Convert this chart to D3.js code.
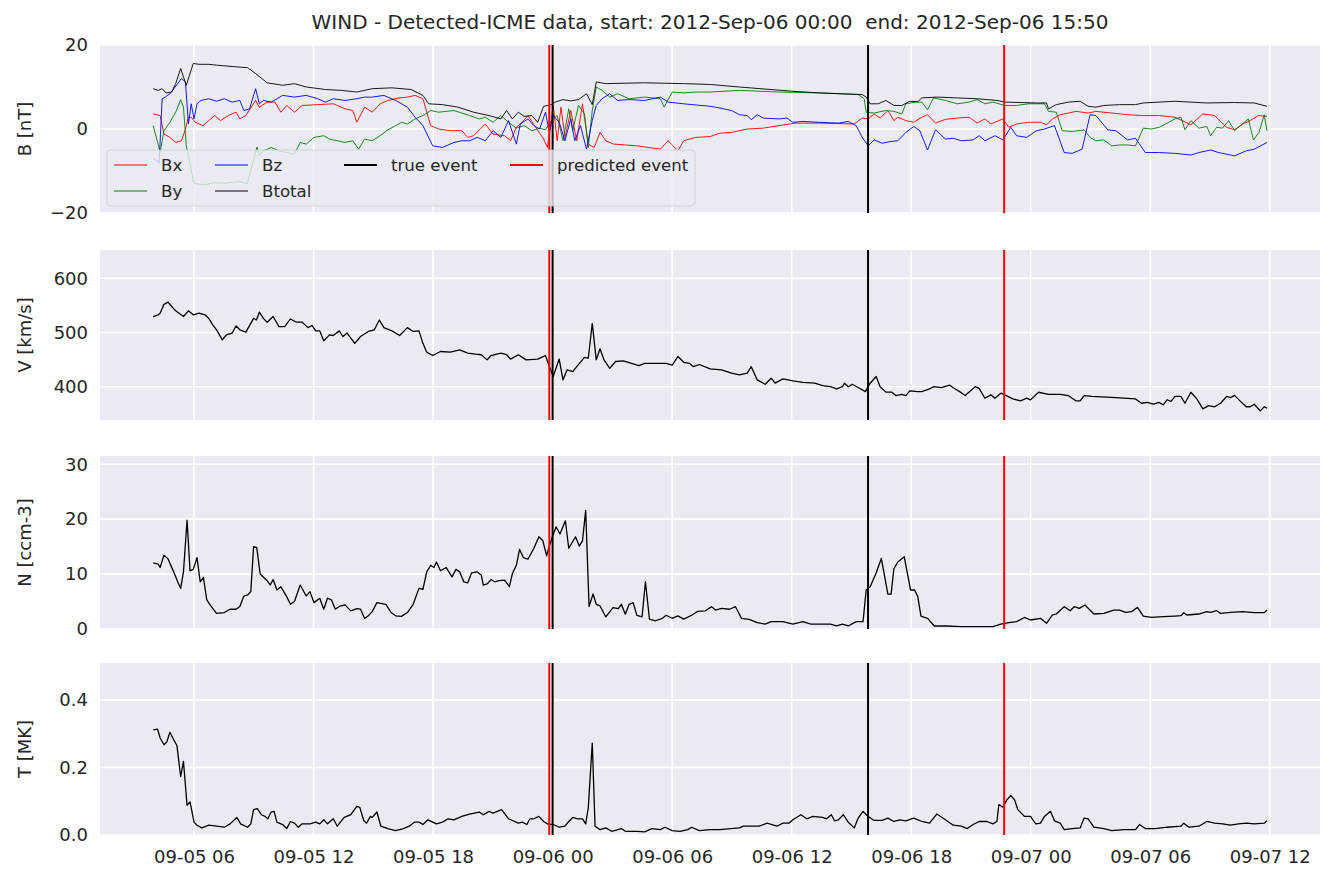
<!DOCTYPE html>
<html>
<head>
<meta charset="utf-8">
<script src="https://cdn.jsdelivr.net/npm/d3@7"></script>
<style>
  html, body { margin: 0; padding: 0; background: #ffffff; }
  svg { display: block; font-family: "DejaVu Sans", sans-serif; }
</style>
</head>
<body>
<svg id="chart" width="1336" height="886"></svg>
<script>
// ---- Data (time in hours since 2012-09-05 00:00 UTC) ----
const titleText = "WIND - Detected-ICME data, start: 2012-Sep-06 00:00  end: 2012-Sep-06 15:50";
const tickHours = [6, 12, 18, 24, 30, 36, 42, 48, 54, 60];
const trueEvents = [24.0, 39.833];
const predictedEvents = [23.833, 46.667];

const bTotal = [[3.95,9.6],[4.20,9.2],[4.40,9.6],[4.59,8.6],[4.88,8.8],[5.08,10.8],[5.33,14.4],[5.61,10.4],[5.96,15.6],[6.25,15.4],[6.74,15.4],[7.13,15.2],[8.11,14.8],[8.69,14.6],[9.09,13.2],[9.67,11.0],[10.45,10.4],[11.04,10.8],[11.63,10.0],[12.60,9.4],[13.39,9.2],[14.17,8.8],[14.95,9.6],[15.93,9.8],[16.90,9.4],[17.49,8.0],[17.78,6.0],[18.47,5.8],[19.25,5.2],[20.03,4.0],[20.81,3.2],[21.40,2.4],[21.69,4.4],[21.98,2.4],[22.28,4.0],[22.57,3.0],[22.96,3.2],[23.25,1.6],[23.55,5.4],[23.74,5.6],[23.94,5.8],[24.13,6.4],[24.52,7.0],[24.91,6.7],[25.30,7.0],[25.70,8.4],[25.99,5.8],[26.19,11.2],[26.67,10.8],[28.62,11.0],[30.58,10.8],[31.91,10.6],[33.38,10.0],[36.00,9.0],[37.35,8.6],[39.54,8.2],[39.74,7.6],[39.94,6.0],[40.34,6.0],[40.73,6.8],[41.13,5.6],[41.53,5.6],[41.93,6.6],[42.33,6.5],[42.53,7.4],[43.32,7.6],[44.31,7.4],[45.31,7.2],[46.30,6.8],[46.70,6.4],[48.29,6.2],[48.79,6.2],[48.89,4.8],[49.28,5.8],[49.88,6.4],[50.48,6.6],[50.88,5.4],[51.27,5.2],[51.67,5.6],[52.46,5.8],[53.26,5.8],[53.65,6.2],[55.24,6.6],[56.84,6.2],[58.23,6.3],[59.22,6.2],[59.86,5.4]];

const bX = [[3.95,3.6],[4.30,3.2],[4.49,-1.2],[4.79,-2.0],[5.08,-3.2],[5.37,-2.8],[5.57,0],[5.72,2.8],[5.86,2.8],[6.06,1.6],[6.45,0.8],[6.74,2.0],[7.03,3.2],[7.33,2.0],[7.72,3.2],[8.11,4.0],[8.30,2.4],[8.60,3.2],[9.09,6.8],[9.28,5.2],[9.67,6.4],[10.06,6.4],[10.36,4.0],[10.65,5.6],[11.04,4.0],[11.43,5.6],[12.21,5.8],[12.99,6.0],[13.58,4.8],[13.97,4.4],[14.17,1.6],[14.56,5.2],[14.95,4.0],[15.34,6.0],[15.73,6.8],[16.32,7.4],[16.71,7.6],[17.10,8.0],[17.49,7.2],[17.88,0.8],[18.27,0],[18.86,-0.4],[19.44,-0.4],[19.74,-2.0],[20.03,-1.6],[20.62,1.2],[21.01,-1.2],[21.59,-1.6],[21.89,-2.8],[22.18,0.4],[22.47,1.6],[22.76,3.2],[23.15,0.4],[23.55,-2.4],[23.74,-4.4],[24.03,5.6],[24.23,-2.8],[24.42,5.2],[24.62,-2.0],[24.91,4.4],[25.21,-2.8],[25.50,6.0],[25.79,-3.6],[26.09,-4.4],[26.38,-0.8],[26.67,-2.8],[27.06,-3.6],[28.23,-4.0],[29.41,-4.8],[29.80,-2.8],[30.29,-5.2],[30.58,-2.8],[31.17,-2.0],[31.91,-1.8],[32.38,-1.0],[32.98,-0.8],[33.77,0],[34.57,0.2],[35.36,0.8],[36.16,1.4],[37.35,1.4],[39.14,1.2],[39.54,2.6],[39.84,2.4],[40.14,3.6],[40.44,2.6],[40.83,4.4],[41.13,2.0],[41.33,2.8],[41.73,2.0],[42.13,1.6],[42.53,2.8],[42.82,3.4],[43.22,1.4],[43.72,2.3],[44.31,2.6],[44.91,2.8],[45.31,1.4],[45.70,2.4],[46.00,1.2],[46.60,2.4],[46.90,0.4],[47.29,1.2],[47.89,1.6],[48.49,1.6],[48.79,1.0],[49.09,2.4],[49.48,3.4],[50.28,4.2],[50.88,3.8],[51.27,4.2],[52.07,3.8],[52.86,3.4],[53.65,3.2],[54.45,3.2],[55.24,2.8],[56.04,1.0],[56.64,3.6],[57.23,3.2],[57.83,0.4],[58.23,-0.2],[58.63,1.2],[59.02,2.0],[59.42,3.2],[59.86,3.0]];

const bY = [[3.95,0.8],[4.30,-5.5],[4.49,-0.4],[4.79,1.6],[5.08,4.0],[5.33,7.0],[5.47,5.2],[5.61,-4.0],[5.99,-12.9],[6.47,-13.3],[7.04,-12.8],[7.62,-12.9],[8.20,-12.5],[8.67,-13.0],[9.16,-4.3],[9.28,-6.4],[9.48,-5.2],[9.87,-4.4],[10.26,-5.2],[10.65,-5.6],[11.04,-6.0],[11.33,-3.2],[11.63,-3.6],[12.02,-2.0],[12.51,-1.6],[12.80,-2.4],[13.19,-2.8],[13.58,-3.2],[13.97,-2.8],[14.26,-4.8],[14.56,-2.4],[14.95,-2.8],[15.34,-1.6],[15.73,-0.2],[16.12,0.8],[16.41,1.6],[16.71,1.2],[17.10,2.4],[17.49,3.2],[17.88,4.4],[18.27,4.0],[18.66,4.2],[19.05,4.4],[19.44,3.8],[19.83,3.2],[20.32,2.4],[20.62,2.8],[21.01,1.6],[21.40,3.2],[21.79,1.6],[22.18,0.2],[22.57,0.8],[22.96,-0.4],[23.35,0.2],[23.64,-0.2],[23.94,2.0],[24.23,3.2],[24.52,-2.8],[24.81,4.8],[25.01,-0.4],[25.30,5.6],[25.60,3.6],[25.79,-4.4],[25.99,4.4],[26.19,10.0],[26.48,9.2],[26.87,7.6],[27.26,8.4],[27.84,7.2],[28.62,7.6],[29.41,7.2],[29.60,5.2],[30.00,8.8],[30.58,8.6],[31.17,8.8],[31.91,8.8],[33.38,9.2],[35.36,8.8],[37.35,8.6],[39.34,8.2],[39.64,7.2],[39.74,4.0],[40.14,3.8],[40.73,4.4],[41.13,4.2],[41.53,3.6],[41.73,6.0],[42.23,6.4],[42.53,6.4],[42.82,4.6],[43.12,7.4],[43.72,6.8],[44.31,6.0],[44.91,6.4],[45.31,7.0],[45.70,6.0],[46.10,6.4],[46.70,5.6],[47.29,5.6],[47.89,6.0],[48.69,6.0],[48.89,4.2],[49.28,4.0],[49.58,-0.4],[50.08,-0.6],[50.68,-0.2],[50.98,-2.0],[51.27,-2.8],[51.67,-2.6],[52.07,-4.0],[52.46,-3.8],[52.86,-3.8],[53.26,-4.0],[53.65,0.2],[54.05,0],[54.45,0.4],[54.85,1.4],[55.24,2.4],[55.54,2.8],[55.74,-0.2],[56.04,2.0],[56.44,0.2],[56.84,0.6],[57.03,-1.6],[57.33,0.4],[57.63,0.2],[57.93,2.0],[58.23,-0.4],[58.63,1.2],[58.92,2.4],[59.18,-2.6],[59.46,-0.8],[59.72,3.4],[59.86,-0.4]];

const bZ = [[3.95,-7.0],[4.25,-8.0],[4.40,7.2],[4.55,7.6],[4.79,8.4],[5.18,10.8],[5.37,12.0],[5.57,11.2],[5.72,1.2],[5.86,6.0],[6.00,2.4],[6.15,6.0],[6.35,6.8],[6.74,7.2],[7.13,6.6],[7.52,7.2],[7.91,6.4],[8.30,6.8],[8.50,4.4],[8.79,4.8],[9.09,9.6],[9.28,6.0],[9.48,6.8],[9.87,6.4],[10.45,8.0],[11.04,7.6],[11.63,8.0],[12.21,7.2],[12.60,6.4],[12.99,7.2],[13.58,6.8],[14.17,7.2],[14.56,7.6],[14.95,7.6],[15.53,8.0],[16.12,6.8],[16.71,5.2],[17.10,2.8],[17.49,0.8],[17.98,-4.0],[18.47,-4.4],[19.05,-3.2],[19.44,-2.8],[19.83,-2.8],[20.22,-2.0],[20.62,-2.8],[21.01,-0.4],[21.40,-2.0],[21.79,2.0],[21.98,-0.8],[22.18,-3.6],[22.38,1.2],[22.76,2.4],[23.06,0.8],[23.35,0],[23.64,4.0],[23.84,-0.8],[24.03,3.2],[24.33,1.6],[24.62,-2.8],[24.91,2.4],[25.11,-2.8],[25.40,0.8],[25.70,-4.8],[25.99,2.0],[26.19,5.6],[26.48,7.2],[26.87,8.4],[27.26,6.8],[27.84,7.0],[28.62,6.8],[29.41,7.6],[29.80,6.4],[30.19,6.2],[30.58,6.0],[31.91,5.4],[32.18,5.2],[32.98,4.4],[33.38,3.4],[33.77,3.2],[33.97,2.2],[34.27,3.4],[34.57,2.6],[35.36,2.4],[35.76,2.6],[36.06,1.6],[36.56,1.8],[37.35,1.6],[38.35,1.4],[38.84,1.8],[39.24,0.8],[39.54,-2.0],[39.84,-4.0],[40.14,-2.6],[40.54,-3.4],[40.93,-3.0],[41.33,-2.8],[41.73,-0.8],[42.13,0.6],[42.43,-0.4],[42.82,-5.0],[43.22,-0.2],[43.72,-2.4],[44.11,-2.2],[44.51,-2.8],[45.11,-2.6],[45.41,-1.6],[45.70,-2.8],[46.20,-1.6],[46.60,-2.6],[47.00,0.4],[47.29,-1.6],[47.79,-2.0],[48.29,-0.4],[48.69,0],[49.19,0.8],[49.68,-5.6],[50.08,-5.8],[50.58,-4.8],[50.98,3.4],[51.27,3.2],[51.87,-0.2],[52.27,-0.4],[52.86,-2.6],[53.26,-2.2],[53.75,-5.6],[54.45,-5.6],[55.24,-5.8],[56.04,-6.2],[56.44,-5.6],[57.03,-5.0],[57.43,-5.6],[58.23,-6.4],[58.82,-5.2],[59.22,-4.8],[59.86,-3.2]];

const speed = [[3.95,529.5],[4.20,532.6],[4.30,535.7],[4.49,552],[4.69,556],[4.88,548],[5.08,540],[5.47,529.5],[5.72,540],[5.96,532.6],[6.25,535.7],[6.55,532.6],[6.74,526],[6.94,514],[7.13,505],[7.42,486.5],[7.62,495.7],[7.91,499],[8.11,512],[8.30,505],[8.60,500.6],[8.99,526],[9.13,523],[9.28,537.5],[9.48,526],[9.67,519],[9.97,529.5],[10.26,511],[10.55,511],[10.84,525],[11.14,519],[11.43,519],[11.72,509],[11.92,513],[12.11,503],[12.31,503],[12.51,484.6],[12.80,495.7],[12.99,494.5],[13.29,503],[13.48,492.6],[13.68,499],[14.07,480],[14.36,492.6],[14.75,502],[15.05,505],[15.30,523],[15.53,509],[15.93,503],[16.32,494.5],[16.71,509],[17.00,502],[17.29,503],[17.49,480],[17.68,463.7],[17.98,457.5],[18.37,465],[18.86,463.7],[19.34,468],[19.74,462],[20.13,460],[20.42,459],[20.71,449.5],[20.91,457.5],[21.40,462],[21.69,459],[21.89,451],[22.28,459],[22.67,449.5],[23.25,451],[23.64,457.5],[23.84,437],[24.03,418.8],[24.33,451],[24.52,412.6],[24.72,431],[25.01,428],[25.21,437],[25.60,454],[25.79,452.6],[25.99,517],[26.19,449.5],[26.38,470],[26.58,449.5],[26.87,434],[27.16,446.5],[27.55,447.7],[28.33,439],[28.62,443],[29.70,443],[30.00,440],[30.29,455.7],[30.58,445],[30.88,443],[31.07,437],[31.36,441],[31.91,433],[32.48,431],[32.98,425],[33.38,422],[33.77,425],[33.97,437],[34.27,412.6],[34.67,404.6],[34.97,415.7],[35.17,406.5],[35.56,414.5],[36.06,410.8],[36.56,408],[37.16,406.5],[37.55,402],[37.95,400],[38.25,396],[38.55,400],[38.65,406.5],[38.84,400],[39.04,404.6],[39.34,398.5],[39.70,391],[39.94,406.5],[40.24,418.8],[40.44,400],[40.73,390],[41.03,390],[41.23,383.7],[41.53,386],[41.73,383.7],[41.93,392.3],[42.33,391],[42.53,391],[42.92,396],[43.12,400],[43.52,398.5],[43.92,403],[44.11,398],[44.51,389],[44.71,383.7],[45.21,400],[45.41,397],[45.70,378.8],[46.00,385],[46.20,378.8],[46.50,388],[46.70,385],[47.10,377.5],[47.49,373.8],[47.79,378.8],[47.99,375.7],[48.39,389.8],[48.89,386],[49.48,386],[49.88,383.7],[50.28,373.8],[50.48,373.8],[50.68,383.7],[51.07,382],[52.27,380],[53.26,377.5],[53.56,369.5],[53.85,371],[54.15,367.7],[54.45,371],[54.65,366.5],[54.85,376],[55.04,373],[55.24,382],[55.54,382],[55.74,369.5],[56.04,389.8],[56.34,377.5],[56.64,359],[56.93,365],[57.23,363],[57.53,369.5],[57.83,382],[58.03,380],[58.23,384],[58.53,373],[58.82,363],[59.02,363],[59.22,367.7],[59.52,355.4],[59.72,363],[59.86,360.3]];

const density = [[3.95,12.06],[4.20,11.8],[4.30,11.2],[4.49,13.45],[4.69,12.8],[4.98,10.4],[5.18,8.6],[5.33,7.4],[5.47,10.4],[5.65,19.8],[5.80,10.6],[5.96,10.85],[6.15,13.0],[6.31,8.6],[6.47,9.4],[6.64,5.3],[6.84,4.2],[7.13,2.85],[7.52,3.0],[7.81,3.6],[8.11,3.6],[8.30,4.1],[8.50,6.0],[8.69,6.2],[8.85,6.8],[8.99,15.0],[9.15,14.8],[9.32,10.0],[9.67,8.8],[9.83,8.0],[9.97,9.0],[10.16,7.1],[10.36,7.7],[10.65,5.9],[10.84,4.5],[11.04,5.0],[11.33,8.0],[11.63,6.0],[11.82,6.8],[12.02,4.8],[12.31,5.6],[12.51,3.6],[12.70,5.6],[12.90,5.3],[13.09,3.6],[13.29,4.1],[13.58,4.4],[13.87,3.3],[14.17,3.7],[14.36,3.6],[14.56,1.9],[14.75,2.4],[14.95,3.2],[15.18,4.8],[15.63,4.5],[15.89,3.0],[16.12,2.4],[16.41,2.3],[16.71,3.0],[17.00,4.5],[17.29,7.4],[17.49,7.2],[17.68,10.4],[17.88,11.6],[18.04,11.2],[18.17,12.2],[18.37,10.6],[18.66,11.2],[18.95,9.5],[19.15,10.85],[19.34,10.4],[19.54,8.6],[19.74,8.4],[19.93,10.2],[20.22,10.4],[20.42,9.8],[20.52,8.0],[20.71,8.2],[20.91,9.0],[21.10,8.6],[21.30,8.8],[21.59,8.9],[21.83,7.7],[21.98,10.1],[22.18,11.6],[22.34,14.5],[22.53,13.0],[22.76,12.7],[23.06,14.7],[23.31,16.8],[23.51,16.06],[23.70,13.3],[23.80,14.7],[23.98,16.7],[24.17,18.6],[24.37,17.3],[24.64,19.7],[24.81,14.7],[25.15,16.8],[25.34,15.1],[25.50,16.06],[25.66,21.6],[25.83,4.1],[26.03,6.4],[26.19,4.5],[26.38,4.2],[26.67,2.2],[27.03,3.9],[27.30,3.7],[27.45,4.5],[27.65,2.7],[27.84,4.5],[28.04,4.8],[28.23,2.5],[28.49,2.2],[28.66,8.6],[28.86,1.8],[29.17,1.5],[29.51,1.95],[29.70,2.5],[30.00,1.95],[30.29,2.4],[30.58,1.8],[30.98,2.5],[31.27,3.2],[31.66,3.3],[31.98,4.06],[32.18,3.45],[32.48,3.76],[32.88,3.6],[33.18,4.06],[33.48,1.94],[33.87,1.76],[34.27,1.15],[34.67,0.9],[34.97,1.33],[35.56,1.33],[36.06,0.9],[36.56,1.33],[36.96,0.9],[37.95,0.9],[38.25,0.55],[38.55,0.9],[38.84,0.55],[39.24,1.33],[39.58,1.33],[39.74,7.1],[39.94,7.7],[40.24,10.2],[40.50,12.85],[40.83,6.36],[40.99,6.36],[41.13,11.0],[41.33,12.2],[41.65,13.15],[41.97,7.1],[42.17,7.1],[42.33,5.9],[42.49,2.36],[42.82,1.94],[43.16,0.55],[43.72,0.55],[44.51,0.42],[45.31,0.42],[46.10,0.42],[46.50,0.9],[46.90,1.15],[47.29,1.33],[47.69,2.1],[47.99,1.64],[48.49,1.94],[48.79,1.03],[49.09,2.55],[49.28,2.73],[49.68,4.06],[49.98,3.33],[50.18,4.06],[50.44,3.76],[50.72,4.36],[51.17,2.73],[51.67,2.85],[52.17,3.45],[52.46,3.45],[52.76,3.03],[53.06,3.15],[53.36,3.94],[53.65,2.36],[54.05,2.12],[54.65,2.24],[55.24,2.36],[55.54,2.42],[55.68,2.97],[55.84,2.55],[56.44,2.73],[56.84,3.15],[57.03,3.03],[57.33,3.33],[57.53,2.85],[58.03,3.03],[58.63,3.15],[59.22,2.97],[59.72,2.97],[59.86,3.45]];

const temperature = [[3.95,0.311],[4.17,0.313],[4.30,0.287],[4.49,0.267],[4.63,0.275],[4.79,0.304],[4.98,0.282],[5.14,0.265],[5.33,0.173],[5.47,0.218],[5.65,0.088],[5.80,0.098],[6.00,0.038],[6.15,0.029],[6.39,0.021],[6.74,0.029],[7.13,0.026],[7.52,0.023],[7.81,0.033],[8.15,0.052],[8.34,0.033],[8.69,0.023],[8.85,0.033],[8.99,0.075],[9.18,0.078],[9.38,0.060],[9.57,0.055],[9.71,0.048],[9.87,0.068],[10.02,0.070],[10.16,0.038],[10.45,0.031],[10.65,0.019],[10.84,0.040],[11.04,0.035],[11.23,0.023],[11.43,0.033],[11.82,0.033],[12.11,0.038],[12.31,0.033],[12.51,0.045],[12.70,0.033],[12.99,0.048],[13.19,0.026],[13.54,0.052],[13.87,0.060],[14.17,0.085],[14.32,0.082],[14.52,0.042],[14.66,0.035],[14.85,0.055],[14.95,0.052],[15.18,0.068],[15.38,0.026],[15.73,0.019],[16.12,0.013],[16.51,0.019],[16.80,0.026],[17.06,0.038],[17.29,0.038],[17.49,0.031],[17.74,0.045],[18.17,0.033],[18.47,0.038],[18.76,0.048],[19.05,0.045],[19.44,0.055],[19.83,0.062],[20.32,0.068],[20.52,0.060],[20.81,0.070],[21.01,0.065],[21.44,0.075],[21.79,0.048],[22.28,0.035],[22.47,0.038],[22.71,0.031],[22.86,0.048],[23.06,0.048],[23.31,0.055],[23.55,0.040],[23.74,0.033],[24.03,0.031],[24.33,0.023],[24.62,0.026],[24.81,0.040],[25.01,0.052],[25.26,0.048],[25.50,0.048],[25.66,0.033],[25.79,0.080],[25.99,0.272],[26.13,0.026],[26.38,0.016],[26.67,0.021],[26.97,0.011],[27.45,0.019],[27.65,0.011],[28.23,0.011],[28.62,0.009],[28.98,0.019],[29.41,0.016],[29.64,0.023],[30.00,0.013],[30.39,0.011],[30.78,0.016],[30.98,0.023],[31.36,0.013],[31.91,0.016],[32.38,0.016],[33.38,0.021],[33.58,0.026],[34.37,0.026],[34.77,0.035],[35.26,0.026],[35.56,0.035],[35.86,0.035],[36.06,0.045],[36.46,0.060],[36.76,0.048],[37.06,0.055],[37.55,0.052],[37.75,0.048],[37.99,0.060],[38.15,0.042],[38.35,0.045],[38.59,0.060],[38.84,0.038],[39.14,0.021],[39.34,0.050],[39.58,0.070],[39.84,0.055],[40.14,0.043],[40.54,0.043],[40.83,0.050],[41.13,0.040],[41.43,0.045],[41.73,0.042],[42.13,0.050],[42.53,0.040],[42.92,0.035],[43.28,0.062],[43.72,0.045],[44.11,0.029],[44.51,0.026],[44.81,0.019],[45.11,0.031],[45.41,0.040],[45.80,0.040],[46.10,0.033],[46.30,0.040],[46.40,0.090],[46.60,0.082],[46.80,0.104],[47.00,0.117],[47.19,0.104],[47.35,0.075],[47.69,0.055],[47.99,0.055],[48.25,0.033],[48.49,0.035],[48.69,0.055],[48.99,0.070],[49.19,0.042],[49.48,0.035],[49.68,0.016],[50.08,0.019],[50.48,0.021],[50.68,0.050],[50.88,0.048],[51.17,0.023],[51.67,0.019],[52.07,0.013],[52.66,0.016],[53.26,0.016],[53.46,0.031],[53.75,0.019],[54.25,0.019],[54.85,0.023],[55.54,0.026],[55.68,0.035],[55.94,0.023],[56.44,0.026],[56.84,0.040],[57.23,0.035],[57.63,0.033],[58.03,0.029],[58.43,0.033],[58.82,0.035],[59.22,0.033],[59.72,0.035],[59.86,0.042]];

const bLabels = ["Bx", "By", "Bz", "Btotal"];
const bColors = ["#ff0000", "#008000", "#0000ff", "#000000"];
const yLabels = ["B [nT]", "V [km/s]", "N [ccm-3]", "T [MK]"];
const yTicksB = [-20, 0, 20];
const yTicksV = [400, 500, 600];
const yTicksN = [0, 10, 20, 30];
const yTicksT = [0.0, 0.2, 0.4];

// ---- Layout ----
const t0 = Date.UTC(2012, 8, 5);
const toDate = h => new Date(t0 + h * 3600000);
const left = 100, right = 1320;
const textColor = "#262626";
const bg = "#EAEAF2";
const tickFont = 18;

const svg = d3.select("#chart");

const x = d3.scaleUtc().domain([toDate(1.28), toDate(62.52)]).range([left, right]);

const panels = [
  { top: 45, bottom: 213, domain: [-20, 20], ticks: yTicksB, fmt: d => d < 0 ? "\u2212" + Math.abs(d) : String(d), label: yLabels[0] },
  { top: 250, bottom: 420, domain: [338.6, 652.2], ticks: yTicksV, fmt: d => String(d), label: yLabels[1] },
  { top: 456, bottom: 629, domain: [0, 31.5], ticks: yTicksN, fmt: d => String(d), label: yLabels[2] },
  { top: 663, bottom: 835, domain: [0, 0.509], ticks: yTicksT, fmt: d3.format(".1f"), label: yLabels[3] }
];

const panelSeries = [
  [bX, bY, bZ, bTotal].map((d, i) => ({ data: d, color: bColors[i], width: 0.9 })),
  [{ data: speed, color: "#000000", width: 1.3 }],
  [{ data: density, color: "#000000", width: 1.3 }],
  [{ data: temperature, color: "#000000", width: 1.3 }]
];

// Title
svg.append("text")
  .attr("x", (left + right) / 2).attr("y", 29)
  .attr("text-anchor", "middle")
  .attr("font-size", 20)
  .attr("fill", textColor)
  .style("white-space", "pre")
  .text(titleText);

panels.forEach((p, pi) => {
  const y = d3.scaleLinear().domain(p.domain).range([p.bottom, p.top]);
  const g = svg.append("g");
  const clipId = "clip" + pi;
  svg.append("clipPath").attr("id", clipId)
    .append("rect").attr("x", left).attr("y", p.top).attr("width", right - left).attr("height", p.bottom - p.top);

  g.append("rect").attr("x", left).attr("y", p.top)
    .attr("width", right - left).attr("height", p.bottom - p.top).attr("fill", bg);

  // grid
  g.append("g").selectAll("line").data(tickHours).join("line")
    .attr("x1", d => x(toDate(d))).attr("x2", d => x(toDate(d)))
    .attr("y1", p.top).attr("y2", p.bottom)
    .attr("stroke", "#ffffff").attr("stroke-width", 1.6);
  g.append("g").selectAll("line").data(p.ticks).join("line")
    .attr("x1", left).attr("x2", right)
    .attr("y1", d => y(d)).attr("y2", d => y(d))
    .attr("stroke", "#ffffff").attr("stroke-width", 1.6);

  // y axis
  const ya = d3.axisLeft(y).tickValues(p.ticks).tickFormat(p.fmt).tickSize(0).tickPadding(12);
  const yg = svg.append("g").attr("transform", `translate(${left},0)`).call(ya);
  yg.select(".domain").remove();
  yg.selectAll("text").attr("font-size", tickFont).attr("fill", textColor).attr("font-family", "DejaVu Sans, sans-serif");

  // y label
  svg.append("text")
    .attr("transform", `translate(${25},${(p.top + p.bottom) / 2}) rotate(-90)`)
    .attr("text-anchor", "middle").attr("dy", "0.35em")
    .attr("font-size", 18).attr("fill", textColor)
    .text(p.label);

  // data lines
  const line = d3.line().x(d => x(toDate(d[0]))).y(d => y(d[1]));
  const dg = g.append("g").attr("clip-path", `url(#${clipId})`);
  panelSeries[pi].forEach(s => {
    dg.append("path").datum(s.data)
      .attr("d", line).attr("fill", "none")
      .attr("stroke", s.color).attr("stroke-width", s.width)
      .attr("stroke-linejoin", "round");
  });

  // event lines
  dg.selectAll("line.pred").data(predictedEvents).join("line").attr("class", "pred")
    .attr("x1", d => x(toDate(d))).attr("x2", d => x(toDate(d)))
    .attr("y1", p.top).attr("y2", p.bottom)
    .attr("stroke", "#ff0000").attr("stroke-width", 2);
  dg.selectAll("line.true").data(trueEvents).join("line").attr("class", "true")
    .attr("x1", d => x(toDate(d))).attr("x2", d => x(toDate(d)))
    .attr("y1", p.top).attr("y2", p.bottom)
    .attr("stroke", "#000000").attr("stroke-width", 2);

  // x axis labels on bottom panel only
  if (pi === panels.length - 1) {
    const xa = d3.axisBottom(x).tickValues(tickHours.map(toDate))
      .tickFormat(d3.utcFormat("%m-%d %H")).tickSize(0).tickPadding(15);
    const xg = svg.append("g").attr("transform", `translate(0,${p.bottom})`).call(xa);
    xg.select(".domain").remove();
    xg.selectAll("text").attr("font-size", tickFont).attr("fill", textColor).attr("font-family", "DejaVu Sans, sans-serif");
  }

  // legend in top panel
  if (pi === 0) {
    const lg = svg.append("g");
    lg.append("rect").attr("x", 107).attr("y", 150).attr("width", 588).attr("height", 56)
      .attr("rx", 4).attr("fill", bg).attr("fill-opacity", 0.8)
      .attr("stroke", "#cccccc").attr("stroke-opacity", 0.8);
    const items = [
      { label: bLabels[0], color: bColors[0], w: 1, lx: 114, ly: 165 },
      { label: bLabels[1], color: bColors[1], w: 1, lx: 114, ly: 191 },
      { label: bLabels[2], color: bColors[2], w: 1, lx: 215, ly: 165 },
      { label: bLabels[3], color: bColors[3], w: 1, lx: 215, ly: 191 },
      { label: "true event", color: "#000000", w: 2.2, lx: 344, ly: 165 },
      { label: "predicted event", color: "#ff0000", w: 2.2, lx: 510, ly: 165 }
    ];
    items.forEach(it => {
      lg.append("line").attr("x1", it.lx).attr("x2", it.lx + 33)
        .attr("y1", it.ly).attr("y2", it.ly)
        .attr("stroke", it.color).attr("stroke-width", it.w);
      lg.append("text").attr("x", it.lx + 47).attr("y", it.ly).attr("dy", "0.35em")
        .attr("font-size", 16.6).attr("fill", textColor).text(it.label);
    });
  }
});
</script>
</body>
</html>
